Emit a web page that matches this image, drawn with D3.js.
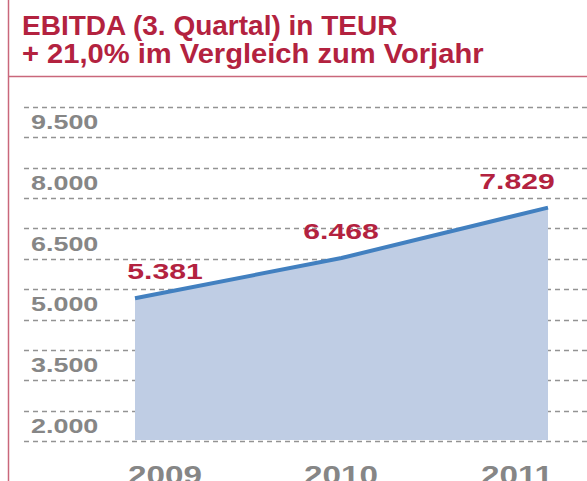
<!DOCTYPE html>
<html>
<head>
<meta charset="utf-8">
<script src="https://cdn.jsdelivr.net/npm/d3@7"></script>
<style>
  body { margin: 0; background: #fff; }
  svg { display: block; font-family: "Liberation Sans", Arial, Helvetica, sans-serif; font-weight: bold; }
</style>
</head>
<body>
<svg width="587" height="481"></svg>
<script>
const titleLines = ["EBITDA (3. Quartal) in TEUR", "+ 21,0% im Vergleich zum Vorjahr"];
const years = [2009, 2010, 2011];
const ebitda = [5381, 6468, 7829];
const valueLabels = ["5.381", "6.468", "7.829"];
const tickValues = [9500, 8000, 6500, 5000, 3500, 2000];
const tickLabels = ["9.500", "8.000", "6.500", "5.000", "3.500", "2.000"];

const svg = d3.select("svg");
const width = +svg.attr("width");
const height = +svg.attr("height");

const red = "#b3223f";
const rule = "#c9677b";
const grey = "#868686";

// stretch glyphs a bit, the original uses a wide face
function widen(sel, k) {
  sel.each(function() {
    const w = this.getComputedTextLength();
    d3.select(this).attr("textLength", w * k).attr("lengthAdjust", "spacingAndGlyphs");
  });
}

// frame
svg.append("line")
  .attr("x1", 8.5).attr("x2", 8.5).attr("y1", 0).attr("y2", height)
  .attr("stroke", rule).attr("stroke-width", 1.5);
svg.append("line")
  .attr("x1", 8).attr("x2", width).attr("y1", 76.5).attr("y2", 76.5)
  .attr("stroke", rule).attr("stroke-width", 1.5);

svg.selectAll("text.title")
  .data(titleLines)
  .join("text")
    .attr("class", "title")
    .attr("x", 22)
    .attr("y", (d, i) => 35 + i * 28)
    .attr("fill", red)
    .attr("font-size", 28)
    .text(d => d)
    .each(function(d, i) {
      d3.select(this).call(widen, i === 0 ? 1.0 : 1.04);
    });

// scales
const x = d3.scalePoint().domain(years).range([135, 548]);
const xLabel = d3.scalePoint().domain(years).range([165, 517]);
const y = d3.scaleLinear().domain([2000, 9500]).range([423.5, 145.7]);
const yGrid = d3.scaleLinear().domain([1625, 9875]).range([441, 107]);

const gridValues = d3.range(1625, 9876, 750);

svg.append("g")
  .attr("class", "grid")
  .selectAll("line")
  .data(gridValues)
  .join("line")
    .attr("x1", 24).attr("x2", width)
    .attr("y1", d => Math.round(yGrid(d)) + 0.5)
    .attr("y2", d => Math.round(yGrid(d)) + 0.5)
    .attr("stroke", "#939393")
    .attr("stroke-width", 1.5)
    .attr("stroke-dasharray", "5,4");

svg.append("g")
  .attr("class", "ylabels")
  .selectAll("text")
  .data(tickValues)
  .join("text")
    .attr("x", 31)
    .attr("y", d => yGrid(d))
    .attr("dy", "0.36em")
    .attr("fill", grey)
    .attr("font-size", 19.5)
    .text((d, i) => tickLabels[i])
    .call(widen, 1.38);

const points = years.map((yr, i) => ({year: yr, value: ebitda[i], label: valueLabels[i]}));

const area = d3.area()
  .x(d => x(d.year))
  .y0(yGrid(1625) - 1)
  .y1(d => y(d.value));

const line = d3.line()
  .x(d => x(d.year))
  .y(d => y(d.value));

svg.append("path")
  .datum(points)
  .attr("d", area)
  .attr("fill", "#bfcde4");

svg.append("path")
  .datum(points)
  .attr("d", line)
  .attr("fill", "none")
  .attr("stroke", "#4280c0")
  .attr("stroke-width", 4)
  .attr("stroke-linejoin", "round");

svg.append("g")
  .attr("class", "values")
  .selectAll("text")
  .data(points)
  .join("text")
    .attr("x", d => xLabel(d.year))
    .attr("y", d => y(d.value) - 19)
    .attr("text-anchor", "middle")
    .attr("fill", red)
    .attr("font-size", 22.5)
    .text(d => d.label)
    .call(widen, 1.34);

// year labels run off the bottom edge, as in the original
svg.append("g")
  .attr("class", "xlabels")
  .selectAll("text")
  .data(years)
  .join("text")
    .attr("x", d => xLabel(d))
    .attr("y", 484)
    .attr("text-anchor", "middle")
    .attr("fill", grey)
    .attr("font-size", 25)
    .text(d => d)
    .call(widen, 1.33);
</script>
</body>
</html>
